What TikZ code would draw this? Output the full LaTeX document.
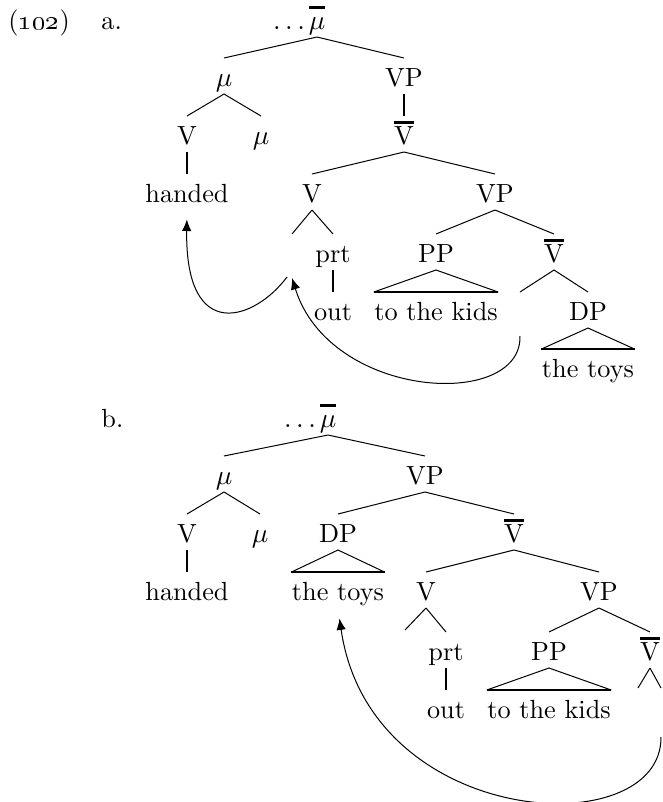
\documentclass[tikz,border=0pt]{standalone}
\usepackage{tikz}
\usetikzlibrary{arrows.meta}
\newcommand{\ovl}[1]{\vbox{\hrule height 0.9pt\kern 1pt\hbox{#1\vphantom{V}}}}
\tikzset{
  lab/.style={anchor=base,inner xsep=0pt,inner ysep=3pt,text height=8pt,text depth=0pt,font=\fontsize{10.5}{12}\selectfont},
  br/.style={line width=0.4pt},
  un/.style={line width=0.8pt},
  bas/.style={line width=0.8pt},
  mv/.style={-{Latex[length=4.6pt,width=3.8pt]},line width=0.4pt}
}
\begin{document}
\begin{tikzpicture}[x=0.4pt,y=-0.4pt]
\useasboundingbox (0,0) rectangle (662,802);
\node[lab,anchor=base west] (exnum) at (8,29) {(\oldstylenums{102})};
\node[lab,anchor=base west] (laba) at (101,29) {a.};
% tree a
\node[lab] (topA) at (317,29) {\llap{$\ldots$\kern1.5pt}\ovl{$\mu$}};
\node[lab] (muA) at (224,86) {$\mu$};
\node[lab] (VPA) at (404,86) {VP};
\node[lab] (VA) at (187,144) {V};
\node[lab] (muA2) at (261,144) {$\mu$};
\node[lab] (VbarA) at (404,144) {\ovl{V}};
\node[lab] (handedA) at (187,202) {handed};
\node[lab] (VA2) at (312,202) {V};
\node[lab] (VPA2) at (495,202) {VP};
\node[lab] (prtA) at (333,262) {prt};
\node[lab] (PPA) at (436,262) {PP};
\node[lab] (VbarA2) at (554,262) {\ovl{V}};
\node[lab] (outA) at (333,320) {out};
\node[lab] (kidsA) at (436,320) {to the kids};
\node[lab] (DPA) at (588,320) {DP};
\node[lab] (toysA) at (588,377) {the toys};
\coordinate (tA1) at (292,234);
\coordinate (tA2) at (520,292);
\draw[br] (topA.south) -- (muA.north) (topA.south) -- (VPA.north);
\draw[br] (muA.south) -- (VA.north) (muA.south) -- (muA2.north);
\draw[un] (VPA.south) -- (VbarA.north);
\draw[un] (VA.south) -- (handedA.north);
\draw[br] (VbarA.south) -- (VA2.north) (VbarA.south) -- (VPA2.north);
\draw[br] (VA2.south) -- (tA1) (VA2.south) -- (prtA.north);
\draw[br] (VPA2.south) -- (PPA.north) (VPA2.south) -- (VbarA2.north);
\draw[un] (prtA.south) -- (outA.north);
\draw[br] (kidsA.north west) -- (PPA.south) -- (kidsA.north east);
\draw[bas] (kidsA.north west) -- (kidsA.north east);
\draw[br] (VbarA2.south) -- (tA2) (VbarA2.south) -- (DPA.north);
\draw[br] (toysA.north west) -- (DPA.south) -- (toysA.north east);
\draw[bas] (toysA.north west) -- (toysA.north east);
\coordinate (mvA1) at (287,277);
\coordinate (mvA2) at (520,336);
\coordinate (lnA2) at (292,278);
\draw[mv,shorten >=3.8pt] (mvA1) .. controls (255,320) and (185,345) .. (handedA.south);
\draw[mv] (mvA2) .. controls (522,410) and (330,400) .. (lnA2);
% tree b
\node[lab,anchor=base west] (labb) at (101,427) {b.};
\node[lab] (topB) at (328,427) {\llap{$\ldots$\kern1.5pt}\ovl{$\mu$}};
\node[lab] (muB) at (224,484) {$\mu$};
\node[lab] (VPB) at (425,484) {VP};
\node[lab] (VB) at (187,542) {V};
\node[lab] (muB2) at (260,542) {$\mu$};
\node[lab] (DPB) at (338,542) {DP};
\node[lab] (VbarB) at (514,542) {\ovl{V}};
\node[lab] (handedB) at (187,600) {handed};
\node[lab] (toysB) at (338,600) {the toys};
\node[lab] (VB2) at (426,600) {V};
\node[lab] (VPB2) at (599,600) {VP};
\node[lab] (prtB) at (446,660) {prt};
\node[lab] (PPB) at (549,660) {PP};
\node[lab] (VbarB2) at (650,660) {\ovl{V}};
\node[lab] (outB) at (446,718) {out};
\node[lab] (kidsB) at (549,718) {to the kids};
\coordinate (tB1) at (405,630);
\coordinate (tB2) at (638,688);
\coordinate (tB3) at (661,688);
\draw[br] (topB.south) -- (muB.north) (topB.south) -- (VPB.north);
\draw[br] (muB.south) -- (VB.north) (muB.south) -- (muB2.north);
\draw[un] (VB.south) -- (handedB.north);
\draw[br] (VPB.south) -- (DPB.north) (VPB.south) -- (VbarB.north);
\draw[br] (toysB.north west) -- (DPB.south) -- (toysB.north east);
\draw[bas] (toysB.north west) -- (toysB.north east);
\draw[br] (VbarB.south) -- (VB2.north) (VbarB.south) -- (VPB2.north);
\draw[br] (VB2.south) -- (tB1) (VB2.south) -- (prtB.north);
\draw[un] (prtB.south) -- (outB.north);
\draw[br] (VPB2.south) -- (PPB.north) (VPB2.south) -- (VbarB2.north);
\draw[br] (kidsB.north west) -- (PPB.south) -- (kidsB.north east);
\draw[bas] (kidsB.north west) -- (kidsB.north east);
\draw[br] (VbarB2.south) -- (tB2) (VbarB2.south) -- (tB3);
\coordinate (mvB) at (661,737);
\draw[mv,shorten >=4.2pt] (mvB) .. controls (662,845) and (370,830) .. (toysB.south);
\end{tikzpicture}
\end{document}
